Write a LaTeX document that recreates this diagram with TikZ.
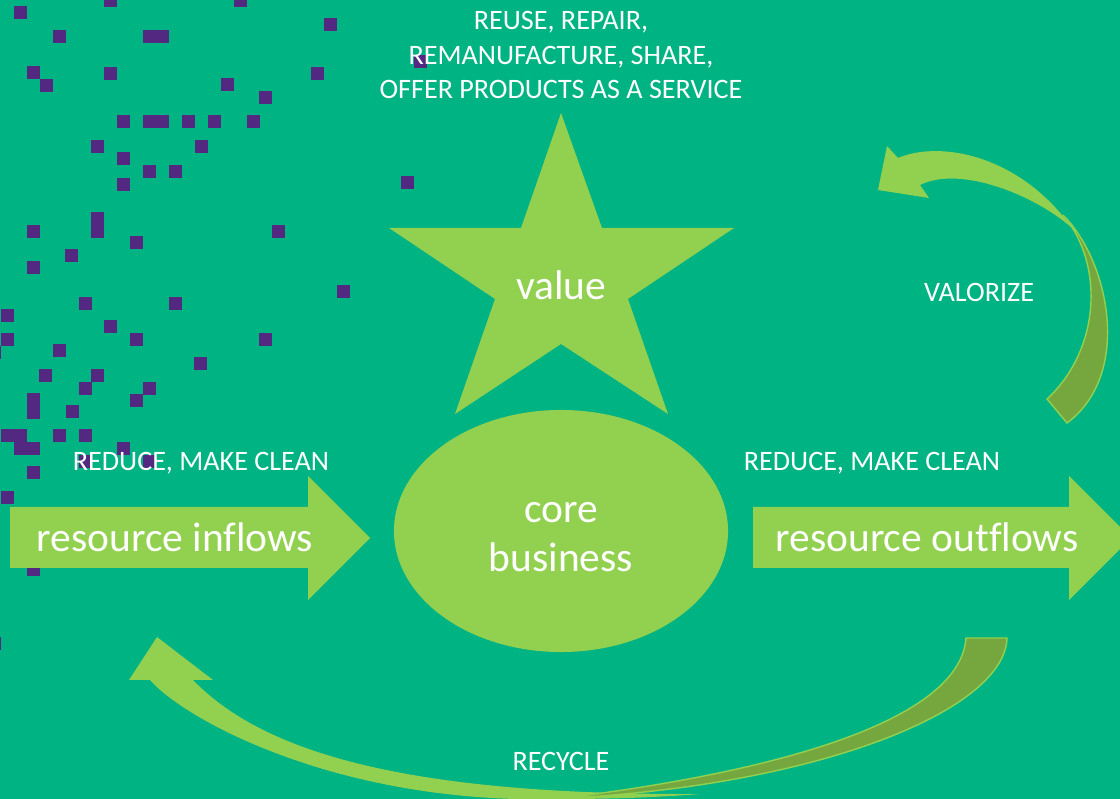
\documentclass[tikz,border=0pt]{standalone}
\usepackage{fontspec}
\setmainfont[Ligatures=NoCommon]{Carlito}
\usetikzlibrary{calc,shapes.geometric}
\definecolor{bggreen}{RGB}{0,179,131}
\definecolor{leafgreen}{RGB}{146,208,80}
\definecolor{ribbongreen}{RGB}{118,167,63}
\definecolor{pixelpurple}{RGB}{82,40,128}
\tikzset{pixel/.style={fill=pixelpurple},leaf/.style={fill=leafgreen},
ribbon/.style={fill=ribbongreen,draw=leafgreen,line width=1pt},
smallcap/.style={text=white,inner sep=0pt,font=\fontsize{20}{24.2}\selectfont},
bigword/.style={text=white,inner sep=0pt,font=\fontsize{29.5}{34.9}\selectfont}}

\begin{document}
\begin{tikzpicture}[x=0.025cm,y=-0.025cm]
		\useasboundingbox (0,0) rectangle (1120,799);
		\fill[bggreen] (0,0) rectangle (1120,799);

		% scattered pixels
		\foreach \px/\py in {104/-6,234/-6,14/6,324/18,53/30,143/30,156/30,414/55,
				27/66,104/67,311/67,40/79,221/78,259/91,117/115,143/115,156/115,182/115,
				208/115,247/115,91/140,195/140,117/152,143/165,169/165,117/178,401/176,
				91/212,91/225,27/225,272/225,130/236,65/249,27/261,337/285,79/297,169/297,
				1/309,104/320,1/333,130/333,259/333,-12/346,53/344,194/357,39/369,91/369,
				79/382,143/382,27/393,27/406,130/394,66/405,1/429,14/429,53/429,79/429,
				14/442,27/442,117/442,79/455,143/455,27/466,1/491,27/563,-12/637}
		\fill[pixel] (\px,\py) rectangle ++(13,13);

		% star and core
		\fill[leaf] (561,113) -- (602,228) -- (734,228) -- (628,299) -- (668,414) -- (561,344)
			-- (455,414) -- (495,299) -- (389,228) -- (521,228) -- cycle;
		\node[ellipse,leaf,minimum width=8.35cm,minimum height=6.05cm,inner sep=0pt] (corebiz) at (561,531) {};

		% block arrows
		\foreach \xa/\xb in {10/308,753/1069}
		\fill[leaf] (\xa,507) -- (\xb,507) -- (\xb,476) -- ($(\xb,538)+(62,0)$) -- (\xb,600) -- (\xb,568) -- (\xa,568) -- cycle;

		% valorize
		\fill[leaf] (898,158) .. controls (940,140) and (1020,155) .. (1072,228)
			.. controls (1035,195) and (960,165) .. (920,185)
			-- (929,198) -- (878,190) -- (887,146) -- cycle;
		\draw[ribbon] (1063,215) .. controls (1110,262) and (1132,375) .. (1067,423)
			-- (1047,399) .. controls (1100,350) and (1105,265) .. (1063,215) -- cycle;

		% recycle
		\fill[leaf] (150,680) .. controls (185,720) and (340,805) .. (560,799)
			.. controls (620,799) and (660,797) .. (700,794)
			.. controls (430,795) and (270,760) .. (193,680)
			-- (213,680) -- (157,637) -- (129,680) -- cycle;
		\draw[ribbon] (1007,638) .. controls (1005,710) and (820,785) .. (568,798)
			-- (580,796) .. controls (780,770) and (960,720) .. (966,638) -- cycle;

		% labels
		\node[smallcap,align=center] (reuse) at (561,55) {REUSE, REPAIR,\\REMANUFACTURE, SHARE,\\OFFER PRODUCTS AS A SERVICE};
		\node[bigword,anchor=base] (value) at (561,300) {value};
		\node[bigword,align=center] (corelabel) at (561,537) {core\\business};
		\node[smallcap,anchor=base] (reducein) at (201,471) {REDUCE, MAKE CLEAN};
		\node[smallcap,anchor=base] (reduceout) at (872,471) {REDUCE, MAKE CLEAN};
		\node[bigword,anchor=base] (inflows) at (175,552) {resource inflows};
		\node[bigword,anchor=base] (outflows) at (927,552) {resource outflows};
		\node[smallcap,anchor=base] (valorize) at (979,302) {VALORIZE};
		\node[smallcap,anchor=base] (recycle) at (561,771) {RECYCLE};
	\end{tikzpicture}
\end{document}
